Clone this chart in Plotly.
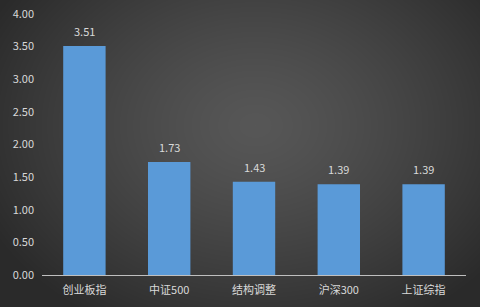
import base64, zlib, struct
import numpy as np
import plotly.graph_objects as go

categories = ["创业板指", "中证500", "结构调整", "沪深300", "上证综指"]
values = [3.51, 1.73, 1.43, 1.39, 1.39]
y_ticks = [0, 0.5, 1.0, 1.5, 2.0, 2.5, 3.0, 3.5, 4.0]
y_ticklabels = ["0.00", "0.50", "1.00", "1.50", "2.00", "2.50", "3.00", "3.50", "4.00"]

W, H = 480, 307

def make_bg():
    yy, xx = np.mgrid[0:H, 0:W].astype(float)
    cx, cy = 255.0, 125.0
    d = np.sqrt(((xx - cx) / 300.0) ** 2 + ((yy - cy) / 230.0) ** 2)
    d = np.clip(d, 0, 1)
    inner, outer = 87.0, 42.0
    v = inner + (outer - inner) * d ** 1.3
    img = np.clip(v, 0, 255).astype(np.uint8)
    rgb = np.stack([img, img, img], axis=-1)
    raw = b"".join(b"\x00" + rgb[r].tobytes() for r in range(H))
    def chunk(t, data):
        c = struct.pack(">I", len(data)) + t + data
        return c + struct.pack(">I", zlib.crc32(t + data) & 0xffffffff)
    png = b"\x89PNG\r\n\x1a\n" + chunk(b"IHDR", struct.pack(">IIBBBBB", W, H, 8, 2, 0, 0, 0)) \
        + chunk(b"IDAT", zlib.compress(raw, 9)) + chunk(b"IEND", b"")
    return "data:image/png;base64," + base64.b64encode(png).decode()

font = "Noto Sans CJK SC, Microsoft YaHei, sans-serif"
txt_color = "#d9d9d9"

fig = go.Figure()
fig.add_trace(go.Bar(
    x=categories, y=values, width=0.5,
    marker=dict(color="#5a9ad8", line=dict(width=0)),
    hoverinfo="skip",
))
for c, v in zip(categories, values):
    fig.add_annotation(x=c, y=v, text=f"{v:.2f}", showarrow=False, yshift=15,
                       font=dict(family=font, size=11, color=txt_color))

fig.add_layout_image(dict(source=make_bg(), xref="paper", yref="paper",
                          x=-42 / 424, y=1 + 14 / 261, sizex=W / 424, sizey=H / 261,
                          sizing="stretch", xanchor="left", yanchor="top", layer="below"))

fig.update_layout(
    width=W, height=H,
    margin=dict(l=42, r=14, t=14, b=32, autoexpand=False),
    paper_bgcolor="#2e2e2e", plot_bgcolor="rgba(0,0,0,0)",
    showlegend=False,
    font=dict(family=font, size=11, color=txt_color),
    xaxis=dict(showgrid=False, showline=True, linecolor="#bfbfbf", linewidth=1, automargin=False,
               ticks="", tickfont=dict(size=11, color=txt_color), zeroline=False,
               ticklabelstandoff=5),
    yaxis=dict(range=[0, 4], tickvals=y_ticks, ticktext=y_ticklabels, showgrid=False, automargin=False,
               showline=False, zeroline=False, ticks="", ticklabelstandoff=7,
               tickfont=dict(size=11, color=txt_color)),
)
fig.write_html("out.html")
